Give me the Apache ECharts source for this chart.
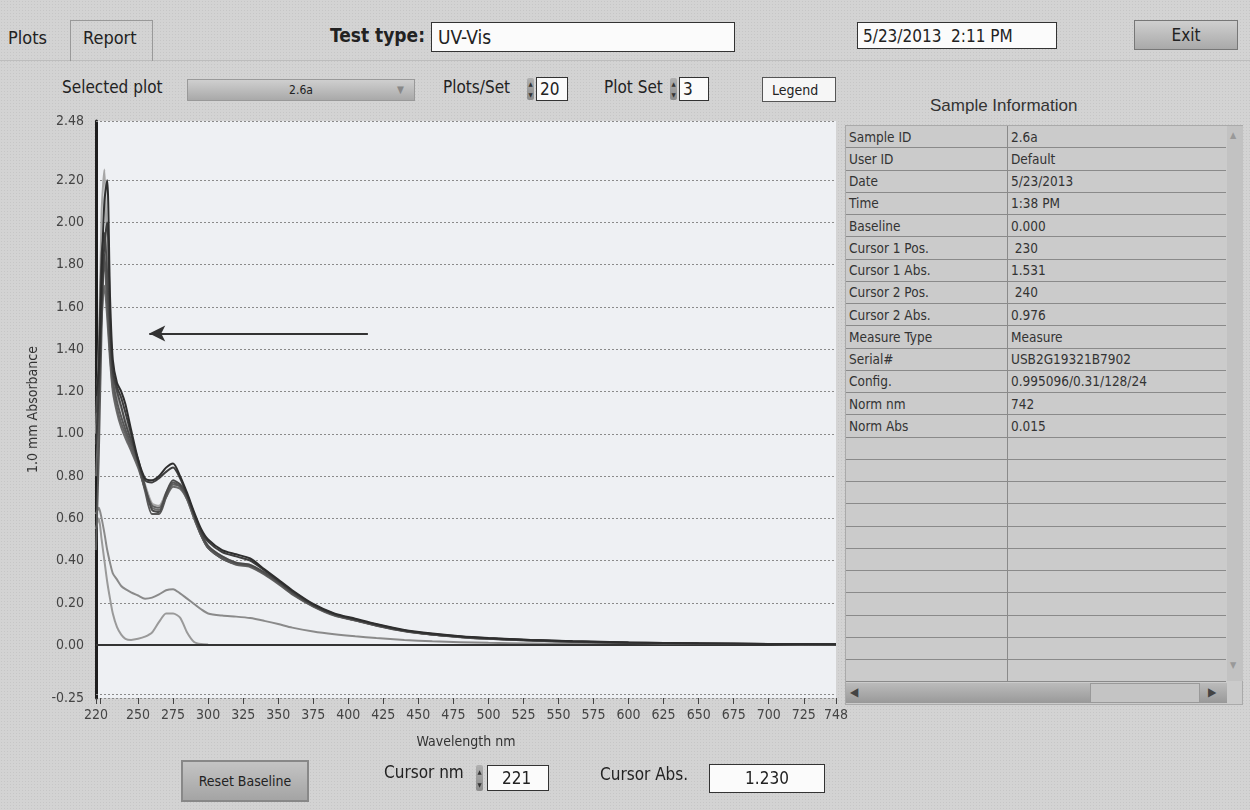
<!DOCTYPE html>
<html>
<head>
<meta charset="utf-8">
<script src="https://cdn.jsdelivr.net/npm/echarts@6/dist/echarts.min.js"></script>
<style>
  html, body { margin: 0; padding: 0; }
  body {
    width: 1250px; height: 810px; position: relative; overflow: hidden;
    background-color: #d3d3d3;
    background-image: radial-gradient(#c6c6c6 0.6px, transparent 0.7px);
    background-size: 3px 3px;
    font-family: "Liberation Sans Narrow", "DejaVu Sans Condensed", "Liberation Sans", Arial, sans-serif;
    color: #222;
  }
  #chart { position: absolute; left: 0; top: 0; width: 1250px; height: 810px; }
  .abs { position: absolute; }
  .box { position: absolute; background: #fbfbfb; border: 1px solid #333; box-sizing: border-box; }
  .btn {
    position: absolute; box-sizing: border-box; border: 1px solid #777;
    background: linear-gradient(#cfcfcf, #a9a9a9); text-align: center;
  }
  .spin { position: absolute; width: 7px; height: 22px; background: linear-gradient(#b0b0b0, #8c8c8c); border-radius: 2px;
    font-size: 6px; line-height: 11px; color: #333; text-align: center; }
  table.info { border-collapse: collapse; font-size: 13.5px; }
  table.info td { height: 21.25px; border-bottom: 1px solid #8a8a8a; padding: 0 0 0 3px; white-space: nowrap; color: #333; }
  table.info td.c1 { width: 158px; border-right: 1px solid #8a8a8a; }
  table.info td.c2 { width: 215px; }
</style>
</head>
<body>
<!-- chrome: tabs, title row -->
<div class="abs" style="left:0;top:60px;width:1250px;height:1px;background:#bdbdbd"></div>
<div class="abs" style="left:8px;top:27px;font-size:18px">Plots</div>
<div class="abs" style="left:70px;top:20px;width:83px;height:41px;border:1px solid #999;border-bottom:none;box-sizing:border-box"></div>
<div class="abs" style="left:83px;top:27px;font-size:18px">Report</div>
<div class="abs" style="left:330px;top:24px;font-size:19px;font-weight:bold">Test type:</div>
<div class="box" style="left:431px;top:22px;width:304px;height:30px;font-size:19px;padding:3px 0 0 6px">UV-Vis</div>
<div class="box" style="left:857px;top:22px;width:200px;height:27px;font-size:17px;padding:3px 0 0 5px">5/23/2013&nbsp; 2:11 PM</div>
<div class="btn" style="left:1134px;top:20px;width:104px;height:30px;font-size:17px;padding-top:4px">Exit</div>

<!-- selector row -->
<div class="abs" style="left:62px;top:77px;font-size:17px">Selected plot</div>
<div class="btn" style="left:187px;top:79px;width:228px;height:22px;font-size:12px;padding-top:3px;border-color:#999">2.6a</div>
<div class="abs" style="left:397px;top:84px;font-size:10px;color:#888">&#9660;</div>
<div class="abs" style="left:443px;top:77px;font-size:17px">Plots/Set</div>
<div class="spin" style="left:527px;top:78px">&#9650;<br>&#9660;</div>
<div class="box" style="left:536px;top:77px;width:32px;height:24px;font-size:17px;padding:1px 0 0 3px">20</div>
<div class="abs" style="left:604px;top:77px;font-size:17px">Plot Set</div>
<div class="spin" style="left:670px;top:78px">&#9650;<br>&#9660;</div>
<div class="box" style="left:679px;top:77px;width:30px;height:24px;font-size:17px;padding:1px 0 0 3px">3</div>
<div class="box" style="left:762px;top:77px;width:74px;height:25px;font-size:14px;padding:4px 0 0 9px;background:#f6f6f6;border-color:#555">Legend</div>

<!-- sample information -->
<div class="abs" style="left:930px;top:96px;font-size:17px;color:#333;font-family:'Liberation Sans',Arial,sans-serif">Sample Information</div>
<div class="abs" style="left:845px;top:125px;width:398px;height:580px;background:#cbcbcb;border:1px solid #aaa;box-sizing:border-box"></div>
<div class="abs" style="left:846px;top:126px" id="tbl"></div>
<div class="abs" style="left:1227px;top:126px;width:16px;height:555px;background:#c2c2c2"></div>
<div class="abs" style="left:1230px;top:130px;font-size:9px;color:#999">&#9650;</div>
<div class="abs" style="left:1230px;top:660px;font-size:9px;color:#999">&#9660;</div>
<div class="abs" style="left:846px;top:683px;width:381px;height:20px;background:linear-gradient(#bbb,#999)"></div>
<div class="abs" style="left:1090px;top:683px;width:110px;height:20px;background:#c4c4c4;border:1px solid #999;box-sizing:border-box"></div>
<div class="abs" style="left:850px;top:685px;font-size:12px;color:#444">&#9664;</div>
<div class="abs" style="left:1208px;top:685px;font-size:12px;color:#444">&#9654;</div>

<div id="chart"></div>

<!-- bottom controls -->
<div class="btn" style="left:181px;top:760px;width:128px;height:42px;font-size:14px;padding-top:11px;background:linear-gradient(#c4c4c4,#a4a4a4);border:2px solid #888">Reset Baseline</div>
<div class="abs" style="left:384px;top:762px;font-size:17px">Cursor nm</div>
<div class="spin" style="left:476px;top:765px;height:26px;line-height:13px">&#9650;<br>&#9660;</div>
<div class="box" style="left:487px;top:765px;width:62px;height:26px;font-size:17px;padding:2px 0 0 14px">221</div>
<div class="abs" style="left:600px;top:764px;font-size:17px">Cursor Abs.</div>
<div class="box" style="left:709px;top:764px;width:116px;height:29px;font-size:17px;padding:3px 0 0 0;text-align:center">1.230</div>

<script>
// wavelength grid (nm) shared by all spectra
const wavelengths = [220, 222, 224, 226, 228, 230, 232, 235, 238, 241, 245, 250, 255, 260, 265, 270, 275, 280, 285, 290,
  295, 300, 310, 320, 330, 340, 350, 360, 375, 390, 405, 420, 440, 460, 480, 500, 530, 560, 600, 650, 700, 748];

// absorbance readings (1.0 mm)
const plotA = [1.18, 1.30, 1.75, 2.10, 2.20, 1.65, 1.35, 1.24, 1.20, 1.14, 1.02, 0.88, 0.79, 0.78, 0.80, 0.84, 0.86, 0.80, 0.72, 0.63,
  0.55, 0.50, 0.45, 0.43, 0.41, 0.36, 0.31, 0.26, 0.195, 0.15, 0.125, 0.10, 0.072, 0.055, 0.042, 0.034, 0.025, 0.019, 0.013, 0.009, 0.006, 0.004];
const plotB = [0.95, 1.20, 1.60, 1.90, 2.00, 1.55, 1.30, 1.22, 1.17, 1.10, 1.00, 0.87, 0.78, 0.77, 0.79, 0.82, 0.84, 0.79, 0.71, 0.62,
  0.54, 0.49, 0.44, 0.42, 0.40, 0.355, 0.305, 0.255, 0.19, 0.148, 0.122, 0.098, 0.070, 0.053, 0.041, 0.033, 0.024, 0.018, 0.012, 0.008, 0.006, 0.004];
const plotC = [1.10, 1.35, 1.85, 1.95, 1.75, 1.48, 1.28, 1.20, 1.13, 1.05, 0.97, 0.88, 0.75, 0.64, 0.63, 0.72, 0.78, 0.76, 0.71, 0.62,
  0.53, 0.47, 0.42, 0.39, 0.38, 0.345, 0.30, 0.25, 0.19, 0.145, 0.12, 0.095, 0.068, 0.051, 0.040, 0.031, 0.023, 0.017, 0.011, 0.008, 0.005, 0.003];
const plotD = [0.45, 0.90, 1.50, 1.85, 1.65, 1.40, 1.25, 1.15, 1.08, 1.02, 0.95, 0.86, 0.73, 0.62, 0.62, 0.70, 0.77, 0.75, 0.70, 0.61,
  0.52, 0.46, 0.41, 0.385, 0.375, 0.34, 0.295, 0.245, 0.185, 0.142, 0.118, 0.093, 0.067, 0.050, 0.039, 0.030, 0.022, 0.016, 0.011, 0.007, 0.005, 0.003];
const plotE = [0.80, 1.10, 1.70, 1.80, 1.60, 1.38, 1.22, 1.12, 1.05, 1.00, 0.93, 0.85, 0.74, 0.66, 0.65, 0.71, 0.76, 0.75, 0.69, 0.60,
  0.52, 0.46, 0.41, 0.38, 0.37, 0.335, 0.29, 0.24, 0.183, 0.14, 0.116, 0.092, 0.066, 0.050, 0.038, 0.030, 0.022, 0.016, 0.010, 0.007, 0.005, 0.003];
const plotF = [1.05, 1.25, 1.55, 1.70, 1.55, 1.35, 1.20, 1.10, 1.03, 0.98, 0.92, 0.84, 0.74, 0.65, 0.64, 0.70, 0.75, 0.74, 0.69, 0.60,
  0.52, 0.46, 0.41, 0.385, 0.375, 0.34, 0.295, 0.245, 0.186, 0.143, 0.118, 0.094, 0.068, 0.051, 0.039, 0.031, 0.023, 0.017, 0.011, 0.007, 0.005, 0.003];
const plotG = [1.00, 1.40, 2.05, 2.25, 1.80, 1.45, 1.25, 1.18, 1.12, 1.06, 0.98, 0.87, 0.76, 0.67, 0.66, 0.72, 0.77, 0.76, 0.70, 0.61,
  0.53, 0.47, 0.42, 0.39, 0.38, 0.34, 0.295, 0.245, 0.186, 0.143, 0.118, 0.094, 0.068, 0.051, 0.039, 0.031, 0.023, 0.017, 0.011, 0.007, 0.005, 0.003];
const plotH = [0.62, 0.65, 0.60, 0.53, 0.45, 0.39, 0.34, 0.31, 0.28, 0.265, 0.25, 0.235, 0.22, 0.225, 0.24, 0.26, 0.265, 0.245, 0.22, 0.195,
  0.17, 0.15, 0.14, 0.135, 0.128, 0.115, 0.10, 0.083, 0.065, 0.052, 0.042, 0.034, 0.025, 0.018, 0.014, 0.011, 0.008, 0.006, 0.004, 0.003, 0.002, 0.002];
const plotI = [0.55, 0.60, 0.50, 0.40, 0.30, 0.22, 0.15, 0.085, 0.05, 0.03, 0.025, 0.03, 0.04, 0.06, 0.11, 0.15, 0.15, 0.13, 0.06, 0.015,
  0.005, 0.003, null, null, null, null, null, null, null, null, null, null, null, null, null, null, null, null, null, null, null, null];

const plotColors = ['#2e2e2e', '#3e3e3e', '#4c4c4c', '#585858', '#626262', '#6c6c6c', '#a6a6a6', '#8a8a8a', '#9a9a9a'];

const xLabelValues = [220, 250, 275, 300, 325, 350, 375, 400, 425, 450, 475, 500, 525, 550, 575, 600, 625, 650, 675, 700, 725, 748];
const xTickValues = [220, 223, 250, 275, 300, 325, 350, 375, 400, 425, 450, 475, 500, 525, 550, 575, 600, 625, 650, 675, 700, 725, 748];
const yLabelValues = [-0.25, 0, 0.2, 0.4, 0.6, 0.8, 1.0, 1.2, 1.4, 1.6, 1.8, 2.0, 2.2, 2.48];

const infoLabels = ['Sample ID', 'User ID', 'Date', 'Time', 'Baseline', 'Cursor 1 Pos.', 'Cursor 1 Abs.', 'Cursor 2 Pos.',
  'Cursor 2 Abs.', 'Measure Type', 'Serial#', 'Config.', 'Norm nm', 'Norm Abs'];
const infoValues = ['2.6a', 'Default', '5/23/2013', '1:38 PM', '0.000', ' 230', '1.531', ' 240', '0.976', 'Measure',
  'USB2G19321B7902', '0.995096/0.31/128/24', '742', '0.015'];

// sample info table
let rows = '';
for (let i = 0; i < 25; i++) {
  rows += '<tr><td class="c1">' + (infoLabels[i] || '&nbsp;') + '</td><td class="c2">' +
    (infoValues[i] !== undefined ? infoValues[i].replace(' ', '&nbsp;') : '&nbsp;') + '</td></tr>';
}
document.getElementById('tbl').innerHTML = '<table class="info">' + rows + '</table>';

const plots = [plotA, plotB, plotC, plotD, plotE, plotF, plotG, plotH, plotI];
const axisFont = '"Liberation Sans Narrow", "DejaVu Sans Condensed", "Liberation Sans", Arial, sans-serif';

const series = plots.map((vals, i) => ({
  type: 'line',
  name: 'plot' + (i + 1),
  data: wavelengths.map((w, j) => [w, vals[j]]),
  showSymbol: false,
  smooth: 0.25,
  connectNulls: false,
  lineStyle: {color: plotColors[i], width: 2},
  z: 10 - i,
  silent: true
}));

// zero baseline, edge grid lines and the annotation arrow
series[0].markLine = {
  silent: true,
  symbol: 'none',
  label: {show: false},
  lineStyle: {color: '#333', width: 2, type: 'solid'},
  data: [{yAxis: 0}]
};
series[2].markLine = {
  silent: true,
  symbol: 'none',
  label: {show: false},
  lineStyle: {color: '#8a8a8a', width: 1, type: [2, 2]},
  data: [{yAxis: -0.23}, {yAxis: 2.475}]
};
series[1].markLine = {
  silent: true,
  symbol: ['none', 'arrow'],
  symbolSize: [12, 16],
  label: {show: false},
  lineStyle: {color: '#333', width: 2, type: 'solid'},
  data: [[{coord: [414, 1.475]}, {coord: [258, 1.475]}]]
};

const chart = echarts.init(document.getElementById('chart'));
chart.setOption({
  animation: false,
  grid: {
    left: 96, top: 121, right: 414, bottom: 112,
    show: true, backgroundColor: '#eef0f3', borderWidth: 0
  },
  xAxis: {
    type: 'value',
    min: 220, max: 748,
    name: 'Wavelength nm',
    nameLocation: 'middle',
    nameGap: 37,
    nameTextStyle: {fontFamily: axisFont, fontSize: 14, color: '#333'},
    axisLine: {show: false, onZero: false},
    axisTick: {show: true, length: 6, customValues: xTickValues, lineStyle: {color: '#444'}},
    axisLabel: {customValues: xLabelValues, margin: 10, fontFamily: axisFont, fontSize: 14, color: '#444'},
    splitLine: {show: false}
  },
  yAxis: {
    type: 'value',
    min: -0.25, max: 2.48,
    name: '1.0 mm Absorbance',
    nameLocation: 'middle',
    nameGap: 56,
    nameTextStyle: {fontFamily: axisFont, fontSize: 14, color: '#333'},
    axisLine: {show: true, lineStyle: {color: '#1e1e1e', width: 3}},
    axisTick: {show: false, customValues: yLabelValues},
    axisLabel: {
      customValues: yLabelValues, margin: 12, fontFamily: axisFont, fontSize: 14, color: '#444',
      formatter: v => v.toFixed(2)
    },
    splitLine: {show: true, lineStyle: {color: '#8a8a8a', type: [2, 2], width: 1}}
  },
  series: series
});
</script>
</body>
</html>
